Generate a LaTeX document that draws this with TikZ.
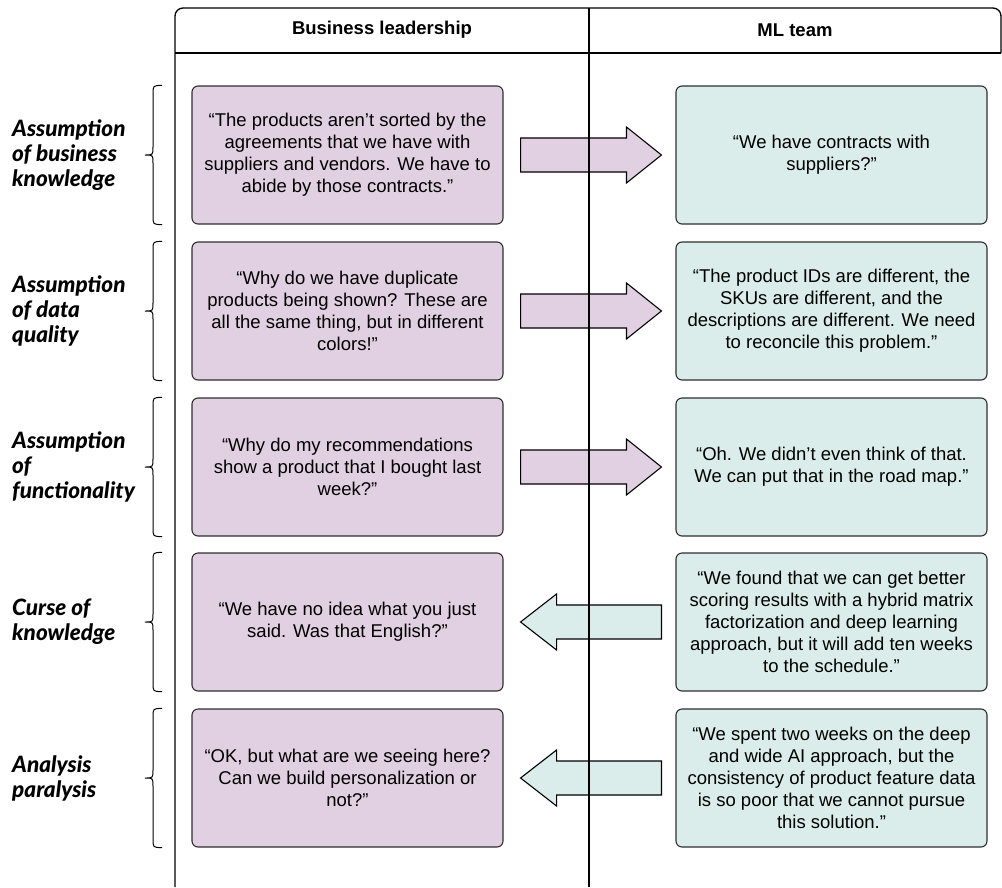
\documentclass[tikz,border=0pt]{standalone}
\usepackage{fontspec}
\setmainfont{Liberation Sans}
\newfontfamily\labelfont{Lato}[BoldItalicFont={Lato Black Italic}]
\usetikzlibrary{calc}
\definecolor{bizfill}{HTML}{E1D0E1}
\definecolor{mlfill}{HTML}{DAEDEA}
\definecolor{boxline}{HTML}{2E2E2E}

% block arrow pointing right, from the left box towards the right box
\newcommand\blockright[3]{%
  \filldraw[fill=#1, blockedge]
    ($(#2.east)+(17,-17)$) -- ($(#3.west)+(-49,-17)$) -- ($(#3.west)+(-49,-28)$)
    -- ($(#3.west)+(-14,0)$) -- ($(#3.west)+(-49,28)$) -- ($(#3.west)+(-49,17)$)
    -- ($(#2.east)+(17,17)$) -- cycle;}
% block arrow pointing left, from the right box towards the left box
\newcommand\blockleft[3]{%
  \filldraw[fill=#1, blockedge]
    ($(#3.west)+(-14,-17)$) -- ($(#2.east)+(53,-17)$) -- ($(#2.east)+(53,-28)$)
    -- ($(#2.east)+(17,0)$) -- ($(#2.east)+(53,28)$) -- ($(#2.east)+(53,17)$)
    -- ($(#3.west)+(-14,17)$) -- cycle;}
% curly brace to the left of a box
\newcommand\sidebrace[1]{%
  \draw[bracestyle] let \p1=(#1.north), \p2=(#1.south), \n1={(\y1+\y2)/2} in
    (162,\y1) .. controls (153,\y1) .. (153,\y1-9) -- (153,\n1+8)
    .. controls (153,\n1) .. (145,\n1) .. controls (153,\n1) .. (153,\n1-8)
    -- (153,\y2+9) .. controls (153,\y2) .. (162,\y2);}

\begin{document}
\begin{tikzpicture}[x=1pt,y=-1pt,
  quote/.style={draw=boxline, line width=1.1pt, rounded corners=6pt,
    minimum width=311pt, minimum height=138pt, align=center, inner sep=0pt,
    font=\fontsize{18.5}{22}\selectfont},
  biz/.style={quote, fill=bizfill},
  mlq/.style={quote, fill=mlfill},
  blockedge/.style={draw=black, line width=1.1pt},
  bracestyle/.style={draw=black, line width=1pt},
  frame/.style={draw=black, line width=1.3pt},
  colhead/.style={font=\fontsize{18.5}{22}\selectfont\bfseries},
  rowlabel/.style={anchor=west, align=left, inner sep=0pt,
    font=\labelfont\bfseries\itshape\fontsize{22.5}{25}\selectfont}]
\useasboundingbox (0,0) rectangle (1002,887);

% column headers
\node[colhead] (hbiz) at (382,30) {Business leadership};
\node[colhead] (hml) at (795,30) {ML team};

% quotes, business leadership side
\node[biz] (b1) at (347.5,155) {“The products aren’t sorted by the\\agreements that we have with\\suppliers and vendors. We have to\\abide by those contracts.”};
\node[biz] (b2) at (347.5,311) {“Why do we have duplicate\\products being shown? These are\\all the same thing, but in different\\colors!”};
\node[biz] (b3) at (347.5,467) {“Why do my recommendations\\show a product that I bought last\\week?”};
\node[biz] (b4) at (347.5,622) {“We have no idea what you just\\said. Was that English?”};
\node[biz] (b5) at (347.5,778) {“OK, but what are we seeing here?\\Can we build personalization or\\not?”};

% quotes, ML team side
\node[mlq] (m1) at (831.5,155) {“We have contracts with\\suppliers?”};
\node[mlq] (m2) at (831.5,311) {“The product IDs are different, the\\SKUs are different, and the\\descriptions are different. We need\\to reconcile this problem.”};
\node[mlq] (m3) at (831.5,467) {“Oh. We didn’t even think of that.\\We can put that in the road map.”};
\node[mlq] (m4) at (831.5,622) {“We found that we can get better\\scoring results with a hybrid matrix\\factorization and deep learning\\approach, but it will add ten weeks\\to the schedule.”};
\node[mlq] (m5) at (831.5,778) {“We spent two weeks on the deep\\and wide AI approach, but the\\consistency of product feature data\\is so poor that we cannot pursue\\this solution.”};

% row labels
\node[rowlabel] (l1) at (12,155) {Assumption\\of business\\knowledge};
\node[rowlabel] (l2) at (12,311) {Assumption\\of data\\quality};
\node[rowlabel] (l3) at (12,467) {Assumption\\of\\functionality};
\node[rowlabel] (l4) at (12,622) {Curse of\\knowledge};
\node[rowlabel] (l5) at (12,778) {Analysis\\paralysis};

% braces
\foreach \b in {b1,b2,b3,b4,b5} {\sidebrace{\b}}

% block arrows
\blockright{bizfill}{b1}{m1}
\blockright{bizfill}{b2}{m2}
\blockright{bizfill}{b3}{m3}
\blockleft{mlfill}{b4}{m4}
\blockleft{mlfill}{b5}{m5}

% table frame
\draw[frame, rounded corners=8pt] (175,887) -- (175,8) -- (1001,8) -- (1001,53);
\draw[frame] (175,53) -- (1001,53);
\draw[frame] (589,8) -- (589,887);
\end{tikzpicture}
\end{document}
